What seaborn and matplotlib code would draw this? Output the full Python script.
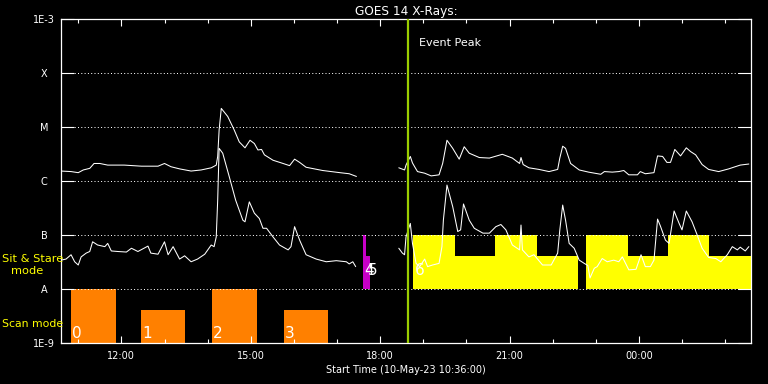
import numpy as np
import pandas as pd
import matplotlib
matplotlib.use("Agg")
import matplotlib.pyplot as plt
import matplotlib.dates as mdates
import seaborn as sns

# black IDL-style look
sns.set_style("dark", {"axes.facecolor": "black", "figure.facecolor": "black",
                       "axes.edgecolor": "white", "text.color": "white"})
plt.rcParams['font.family'] = ['DejaVu Sans']

start = pd.Timestamp("2023-05-10 10:36:00")
span_min = 960

# GOES long channel (1-8 A), minutes after start / log10 flux, data gap ~17:47-18:26
long_pre_min = [0, 14, 24, 31, 40, 46, 54, 65, 88, 112, 135, 144, 153, 165, 181, 195, 209, 216, 218, 220,
                223, 232, 241, 248, 256, 263, 269, 274, 279, 283, 295, 309, 318, 325, 332, 341, 364, 388, 401, 411]
long_pre_log = [-5.81, -5.82, -5.84, -5.79, -5.76, -5.67, -5.67, -5.70, -5.70, -5.72, -5.72, -5.67, -5.73, -5.77,
                -5.81, -5.79, -5.75, -5.70, -5.54, -5.05, -4.65, -4.80, -5.05, -5.27, -5.38, -5.24, -5.30, -5.42,
                -5.41, -5.51, -5.61, -5.67, -5.71, -5.59, -5.65, -5.74, -5.80, -5.84, -5.86, -5.91]
long_post_min = [470, 478, 480, 486, 489, 492, 496, 506, 515, 526, 531, 537, 545, 554, 561, 568, 582, 596, 614, 628,
                 638, 640, 643, 651, 665, 679, 691, 694, 698, 702, 709, 721, 734, 751, 756, 767, 776, 783, 790, 802,
                 806, 813, 825, 830, 837, 843, 848, 854, 862, 870, 876, 883, 892, 901, 915, 929, 938, 945, 957]
long_post_log = [-5.75, -5.79, -5.70, -5.54, -5.66, -5.73, -5.82, -5.85, -5.90, -5.88, -5.67, -5.24, -5.39, -5.59,
                 -5.36, -5.48, -5.56, -5.57, -5.50, -5.57, -5.67, -5.56, -5.69, -5.75, -5.78, -5.82, -5.78, -5.57,
                 -5.35, -5.39, -5.67, -5.79, -5.83, -5.87, -5.82, -5.83, -5.82, -5.80, -5.88, -5.88, -5.82, -5.86,
                 -5.84, -5.53, -5.54, -5.65, -5.65, -5.41, -5.53, -5.38, -5.45, -5.51, -5.69, -5.78, -5.82, -5.77,
                 -5.73, -5.70, -5.68]

# GOES short channel (0.5-4 A)
short_pre_min = [0, 7, 14, 19, 24, 28, 35, 40, 44, 51, 61, 65, 70, 79, 91, 98, 107, 121, 125, 135,
                 144, 149, 156, 165, 172, 181, 190, 200, 209, 213, 216, 218, 220, 225, 234, 243, 253, 256, 262, 269,
                 276, 281, 286, 295, 304, 316, 320, 325, 332, 341, 355, 369, 383, 397, 401, 406, 410]
short_pre_log = [-7.46, -7.44, -7.36, -7.49, -7.55, -7.40, -7.33, -7.30, -7.12, -7.18, -7.21, -7.15, -7.29, -7.30,
                 -7.31, -7.24, -7.30, -7.20, -7.33, -7.35, -7.12, -7.36, -7.21, -7.44, -7.38, -7.49, -7.44, -7.35,
                 -7.18, -7.21, -7.03, -6.35, -5.39, -5.48, -5.91, -6.35, -6.72, -6.75, -6.38, -6.59, -6.69, -6.87,
                 -6.87, -7.03, -7.18, -7.27, -7.21, -6.84, -7.09, -7.36, -7.44, -7.49, -7.47, -7.49, -7.53, -7.49,
                 -7.58]
short_post_min = [470, 475, 478, 480, 486, 489, 494, 499, 506, 510, 517, 526, 530, 532, 537, 545, 552, 556, 560, 568,
                  575, 587, 596, 605, 612, 619, 628, 638, 640, 642, 651, 658, 670, 682, 691, 694, 698, 702, 707, 714,
                  721, 728, 733, 736, 742, 746, 753, 760, 769, 776, 781, 790, 800, 807, 813, 820, 825, 830, 834, 841,
                  846, 853, 860, 864, 870, 878, 885, 892, 901, 911, 918, 927, 934, 941, 945, 952, 957]
short_post_log = [-7.24, -7.33, -7.36, -7.03, -6.78, -7.15, -7.52, -7.58, -7.44, -7.58, -7.55, -7.52, -7.21, -6.72,
                  -6.07, -6.47, -6.93, -6.90, -6.42, -6.72, -6.87, -6.96, -6.96, -6.84, -6.80, -6.90, -7.18, -7.27,
                  -6.81, -7.27, -7.40, -7.36, -7.55, -7.55, -7.33, -6.90, -6.44, -6.72, -7.15, -7.24, -7.46, -7.52,
                  -7.56, -7.79, -7.61, -7.58, -7.43, -7.49, -7.46, -7.49, -7.40, -7.64, -7.63, -7.36, -7.58, -7.58,
                  -7.46, -6.70, -6.83, -7.09, -7.15, -6.55, -6.78, -6.90, -6.55, -6.75, -6.99, -7.24, -7.41, -7.43,
                  -7.49, -7.36, -7.21, -7.27, -7.22, -7.29, -7.21]

# IRIS observing blocks
mode_start_min = [14, 111, 210, 310, 420, 425, 490, 548, 604, 662, 731, 789, 844, 902]
mode_end_min = [76, 173, 272, 372, 425, 430, 548, 604, 662, 719, 789, 844, 902, 960]
mode_kind = ['scan'] * 4 + ['stare_a'] * 2 + ['stare_b'] * 8
mode_bottom_log = [-9, -9, -9, -9, -8, -8, -8, -8, -8, -8, -8, -8, -8, -8]
mode_top_log = [-8, -8.38, -8, -8.38, -7, -7.38, -7, -7.38, -7, -7.38, -7, -7.38, -7, -7.38]
mode_labels = ['0', '1', '2', '3', '4', '5', '6', '', '', '', '', '', '', '']

event_peak_min = 483

ytick_vals = [1e-9, 1e-8, 1e-7, 1e-6, 1e-5, 1e-4, 1e-3]
ytick_labels = ['1E-9', 'A', 'B', 'C', 'M', 'X', '1E-3']

mode_colors = {'scan': '#ff8000', 'stare_a': '#c800c8', 'stare_b': '#ffff00'}


def to_time(minutes):
    return start + pd.to_timedelta(np.asarray(minutes, dtype=float), unit='m')


frames = []
for name, t, f in [('long_pre', long_pre_min, long_pre_log), ('long_post', long_post_min, long_post_log),
                   ('short_pre', short_pre_min, short_pre_log), ('short_post', short_post_min, short_post_log)]:
    frames.append(pd.DataFrame({'time': to_time(t), 'flux': 10.0 ** np.asarray(f), 'seg': name}))
df = pd.concat(frames, ignore_index=True)

fig = plt.figure(figsize=(7.68, 3.84), dpi=100)
ax = fig.add_axes([61 / 768, 1 - 343.3 / 384, 690 / 768, 324 / 384])
ax.set_facecolor('black')

# observing mode blocks
t0 = mdates.date2num(to_time(mode_start_min))
t1 = mdates.date2num(to_time(mode_end_min))
bottoms = 10.0 ** np.array(mode_bottom_log)
tops = 10.0 ** np.array(mode_top_log)
ax.bar(t0, tops - bottoms, width=t1 - t0, bottom=bottoms, align='edge',
       color=[mode_colors[k] for k in mode_kind], linewidth=0, zorder=1)
for x, b, lab, kind in zip(t0, bottoms, mode_labels, mode_kind):
    if lab:
        off = 2 if kind == 'scan' else 8
        ax.annotate(lab, (x, b), xytext=(1, off), textcoords='offset points',
                    color='white', fontsize=11, ha='left', va='bottom', zorder=4)

sns.lineplot(data=df, x='time', y='flux', units='seg', estimator=None, color='white',
             lw=0.75, ax=ax, zorder=2, legend=False)

ax.axvline(to_time([event_peak_min])[0], color='#9acd00', lw=1.6, zorder=3)
ax.annotate('Event Peak', (to_time([event_peak_min])[0], 1), xycoords=('data', 'axes fraction'),
            xytext=(7.5, -17), textcoords='offset points', color='white', fontsize=8, va='center')

ax.set_yscale('log')
ax.set_ylim(1e-9, 1e-3)
ax.set_xlim(to_time([0])[0], to_time([span_min])[0])
ax.set_yticks(ytick_vals)
ax.set_yticklabels(ytick_labels)
ax.yaxis.set_minor_locator(matplotlib.ticker.NullLocator())
for lab in ax.get_yticklabels():
    lab.set_horizontalalignment('center')

ax.xaxis.set_major_locator(mdates.HourLocator(byhour=range(0, 24, 3)))
ax.xaxis.set_minor_locator(mdates.HourLocator())
ax.xaxis.set_major_formatter(mdates.DateFormatter('%H:%M'))

ax.grid(axis='y', which='major', color='white', linestyle=(0, (1, 2.3)), lw=0.72)
ax.grid(axis='x', visible=False)
ax.set_axisbelow(False)

ax.tick_params(axis='y', which='major', direction='in', length=9.4, width=0.8, colors='white',
               left=True, right=True, pad=12.2, labelsize=7)
ax.tick_params(axis='x', which='major', direction='in', length=4.8, width=0.8, colors='white',
               bottom=True, top=True, pad=5.5, labelsize=7)
ax.tick_params(axis='x', which='minor', direction='in', length=2.6, width=0.8, colors='white',
               bottom=True, top=True)
for sp in ax.spines.values():
    sp.set_color('white')
    sp.set_linewidth(0.9)

ax.set_xlabel('Start Time (10-May-23 10:36:00)', color='white', fontsize=7, labelpad=3)
ax.set_ylabel('')
ax.set_title('GOES 14 X-Rays:', color='white', fontsize=8.7, pad=3)

fig.text(2 / 768, 1 - 259 / 384, 'Sit & Stare', color='#ffff00', fontsize=8.2, va='center')
fig.text(11 / 768, 1 - 271 / 384, 'mode', color='#ffff00', fontsize=8.2, va='center')
fig.text(2 / 768, 1 - 324 / 384, 'Scan mode', color='#ffff00', fontsize=7.8, va='center')

fig.savefig('out.png', dpi=100, facecolor='black')
